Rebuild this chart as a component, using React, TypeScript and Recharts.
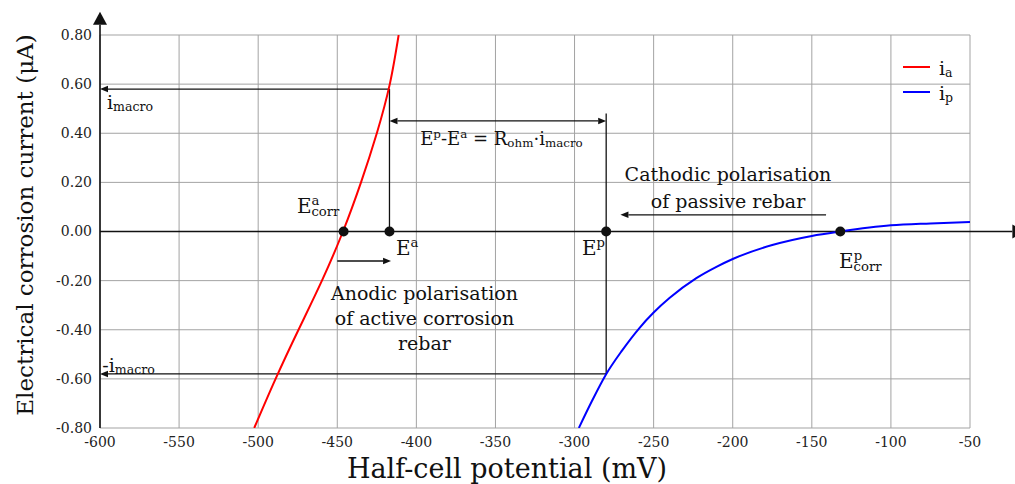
import React from 'react';
import { LineChart, Line, XAxis, YAxis, CartesianGrid, ReferenceLine, ReferenceDot, Legend, Label } from 'recharts';

const FONT = '"DejaVu Serif", serif';
const INK = '#111';
const RED = '#ff0000';
const BLUE = '#0000ff';

const xTicks = [-600, -550, -500, -450, -400, -350, -300, -250, -200, -150, -100, -50];
const yTicks = [-0.8, -0.6, -0.4, -0.2, 0, 0.2, 0.4, 0.6, 0.8];

// anodic curve (active rebar), potential in mV vs current in uA
const anodicE = [-502.5, -489, -474.5, -459.7, -446.4, -435, -425, -416.8, -411.2];
const anodicI = [-0.8, -0.6, -0.4, -0.2, 0, 0.2, 0.4, 0.6, 0.8];

// cathodic curve (passive rebar)
const passiveE = [-297.3, -289, -280.4, -270, -259, -250, -240, -223, -210, -200, -175, -150, -132, -100, -75, -50];
const passiveI = [-0.8, -0.69, -0.585, -0.485, -0.393, -0.33, -0.271, -0.19, -0.143, -0.112, -0.055, -0.018, 0, 0.025, 0.033, 0.039];

// marked potentials and macrocell current
const eaCorr = -446;
const ea = -417;
const ep = -280;
const epCorr = -132;
const iMacro = 0.58;

const anodic = anodicE.map((x, i) => ({ x, y: anodicI[i] }));
const passive = passiveE.map((x, i) => ({ x, y: passiveI[i] }));

type Seg = { t: string; k?: 'sup' | 'sub'; dx?: number };

function Rich({ x, y, size, segs, anchor = 'start' }: { x: number; y: number; size: number; segs: Seg[]; anchor?: string }) {
  let cur = 0;
  return (
    <text x={x} y={y} fontSize={size} fontFamily={FONT} fill={INK} textAnchor={anchor as any} style={{ whiteSpace: 'pre' }}>
      {segs.map((s, i) => {
        const off = s.k === 'sup' ? -0.4 * size : s.k === 'sub' ? 0.13 * size : 0;
        const dy = off - cur;
        cur = off;
        return (
          <tspan key={i} dy={dy} dx={s.dx} fontSize={s.k ? size * 0.66 : size}>
            {s.t}
          </tspan>
        );
      })}
    </text>
  );
}

const textAt = (segs: Seg[], size: number, anchor = 'start') => (p: any) => (
  <Rich x={p.cx} y={p.cy} size={size} segs={segs} anchor={anchor} />
);

// line with arrowheads, drawn from the reference line end points
const arrow = (start: boolean, end: boolean, len = 8, wid = 6.5, sw = 1.3) => (p: any) => {
  const { x1, y1, x2, y2 } = p;
  const L = Math.hypot(x2 - x1, y2 - y1) || 1;
  const ux = (x2 - x1) / L;
  const uy = (y2 - y1) / L;
  const head = (tx: number, ty: number, dx: number, dy: number) => {
    const bx = tx - dx * len;
    const by = ty - dy * len;
    return `${tx},${ty} ${bx - (dy * wid) / 2},${by + (dx * wid) / 2} ${bx + (dy * wid) / 2},${by - (dx * wid) / 2}`;
  };
  const sx = start ? x1 + ux * len : x1;
  const sy = start ? y1 + uy * len : y1;
  const ex = end ? x2 - ux * len : x2;
  const ey = end ? y2 - uy * len : y2;
  return (
    <g>
      <line x1={sx} y1={sy} x2={ex} y2={ey} stroke={INK} strokeWidth={sw} />
      {start && <polygon points={head(x1, y1, -ux, -uy)} fill={INK} />}
      {end && <polygon points={head(x2, y2, ux, uy)} fill={INK} />}
    </g>
  );
};

const plain = (p: any) => <line x1={p.x1} y1={p.y1} x2={p.x2} y2={p.y2} stroke={INK} strokeWidth={1.3} />;

const xTick = (p: any) => (
  <text x={p.x} y={p.y} dy="0.71em" textAnchor="middle" fontSize={14} fontFamily={FONT} fill="#222">
    {p.payload.value}
  </text>
);

const yTick = (p: any) => (
  <text x={p.x} y={p.y} dy="0.355em" textAnchor="end" fontSize={14} fontFamily={FONT} fill="#222">
    {Number(p.payload.value).toFixed(2)}
  </text>
);

const legendContent = () => (
  <svg width={90} height={56}>
    <line x1={8} x2={35} y1={12} y2={12} stroke={RED} strokeWidth={2} />
    <Rich x={44} y={20} size={19} segs={[{ t: 'i' }, { t: 'a', k: 'sub' }]} />
    <line x1={8} x2={35} y1={37} y2={37} stroke={BLUE} strokeWidth={2} />
    <Rich x={44} y={45} size={19} segs={[{ t: 'i' }, { t: 'p', k: 'sub' }]} />
  </svg>
);

const xTitle = () => (
  <text x={507} y={478} fontSize={27} fontFamily={FONT} fill={INK} textAnchor="middle">
    Half-cell potential (mV)
  </text>
);

const yTitle = () => {
  const cx = 33;
  const cy = 225;
  return (
    <text x={cx} y={cy} transform={`rotate(-90, ${cx}, ${cy})`} fontSize={23} fontFamily={FONT} fill={INK} textAnchor="middle">
      Electrical corrosion current (μA)
    </text>
  );
};

export default function App() {
  return (
    <div style={{ position: 'absolute', left: 0, top: 0, width: 1015, height: 484, background: '#fff' }}>
      <LineChart width={1015} height={484} margin={{ top: 35, right: 45, bottom: 16, left: 40 }} style={{ fontFamily: FONT }}>
        <CartesianGrid stroke="#a3a3a3" strokeWidth={1} />
        <XAxis
          dataKey="x"
          type="number"
          domain={[-600, -50]}
          ticks={xTicks}
          allowDataOverflow
          height={40}
          axisLine={false}
          tickLine={false}
          tickSize={0}
          tickMargin={9}
          tick={xTick}
          label={<Label content={xTitle} />}
        />
        <YAxis
          type="number"
          domain={[-0.8, 0.8]}
          ticks={yTicks}
          allowDataOverflow
          width={60}
          axisLine={false}
          tickLine={false}
          tickSize={0}
          tickMargin={8}
          tick={yTick}
          label={<Label content={yTitle} />}
        />
        <Legend layout="horizontal" verticalAlign="middle" align="center" wrapperStyle={{ left: 895, top: 55, width: 90 }} content={legendContent} />

        <ReferenceLine segment={[{ x: -600, y: -0.8 }, { x: -600, y: 0.895 }]} ifOverflow="visible" shape={arrow(false, true, 13, 14, 1.6)} />
        <ReferenceLine segment={[{ x: -600, y: 0 }, { x: -15, y: 0 }]} ifOverflow="visible" shape={arrow(false, true, 13, 14, 1.6)} />

        <ReferenceLine segment={[{ x: ea, y: iMacro }, { x: -600, y: iMacro }]} ifOverflow="visible" shape={arrow(false, true)} />
        <ReferenceLine segment={[{ x: ea, y: iMacro }, { x: ea, y: 0 }]} ifOverflow="visible" shape={plain} />
        <ReferenceLine segment={[{ x: ea, y: 0.45 }, { x: ep, y: 0.45 }]} ifOverflow="visible" shape={arrow(true, true)} />
        <ReferenceLine segment={[{ x: ep, y: 0.48 }, { x: ep, y: -iMacro }]} ifOverflow="visible" shape={plain} />
        <ReferenceLine segment={[{ x: ep, y: -iMacro }, { x: -600, y: -iMacro }]} ifOverflow="visible" shape={arrow(false, true)} />
        <ReferenceLine segment={[{ x: -450, y: -0.12 }, { x: -416, y: -0.12 }]} ifOverflow="visible" shape={arrow(false, true)} />
        <ReferenceLine segment={[{ x: -141, y: 0.068 }, { x: -271, y: 0.068 }]} ifOverflow="visible" shape={arrow(false, true)} />

        <Line data={anodic} dataKey="y" name="ia" type="natural" stroke={RED} strokeWidth={2} dot={false} isAnimationActive={false} />
        <Line data={passive} dataKey="y" name="ip" type="monotone" stroke={BLUE} strokeWidth={2} dot={false} isAnimationActive={false} />

        <ReferenceDot x={eaCorr} y={0} r={5} fill={INK} stroke="none" ifOverflow="visible" />
        <ReferenceDot x={ea} y={0} r={5} fill={INK} stroke="none" ifOverflow="visible" />
        <ReferenceDot x={ep} y={0} r={5} fill={INK} stroke="none" ifOverflow="visible" />
        <ReferenceDot x={epCorr} y={0} r={5} fill={INK} stroke="none" ifOverflow="visible" />

        <ReferenceDot x={-595.6} y={0.5} ifOverflow="visible" shape={textAt([{ t: 'i' }, { t: 'macro', k: 'sub' }], 19)} />
        <ReferenceDot x={-598.5} y={-0.572} ifOverflow="visible" shape={textAt([{ t: '-i' }, { t: 'macro', k: 'sub' }], 19)} />
        <ReferenceDot
          x={-346.2}
          y={0.352}
          ifOverflow="visible"
          shape={textAt(
            [
              { t: 'E' },
              { t: 'p', k: 'sup' },
              { t: '-E' },
              { t: 'a', k: 'sup' },
              { t: ' = R' },
              { t: 'ohm', k: 'sub' },
              { t: '·i' },
              { t: 'macro', k: 'sub' },
            ],
            18,
            'middle'
          )}
        />
        <ReferenceDot x={-203} y={0.206} ifOverflow="visible" shape={textAt([{ t: 'Cathodic polarisation' }], 19, 'middle')} />
        <ReferenceDot x={-203} y={0.096} ifOverflow="visible" shape={textAt([{ t: 'of passive rebar' }], 19, 'middle')} />
        <ReferenceDot x={-394.9} y={-0.279} ifOverflow="visible" shape={textAt([{ t: 'Anodic polarisation' }], 19, 'middle')} />
        <ReferenceDot x={-394.9} y={-0.381} ifOverflow="visible" shape={textAt([{ t: 'of active corrosion' }], 19, 'middle')} />
        <ReferenceDot x={-394.9} y={-0.482} ifOverflow="visible" shape={textAt([{ t: 'rebar' }], 19, 'middle')} />
        <ReferenceDot
          x={-475.5}
          y={0.075}
          ifOverflow="visible"
          shape={textAt([{ t: 'E' }, { t: 'a', k: 'sup' }, { t: 'corr', k: 'sub', dx: -8 }], 20)}
        />
        <ReferenceDot x={-412.9} y={-0.096} ifOverflow="visible" shape={textAt([{ t: 'E' }, { t: 'a', k: 'sup' }], 20)} />
        <ReferenceDot x={-295.3} y={-0.096} ifOverflow="visible" shape={textAt([{ t: 'E' }, { t: 'p', k: 'sup' }], 20)} />
        <ReferenceDot
          x={-132.8}
          y={-0.149}
          ifOverflow="visible"
          shape={textAt([{ t: 'E' }, { t: 'p', k: 'sup' }, { t: 'corr', k: 'sub', dx: -8.5 }], 20)}
        />
      </LineChart>
    </div>
  );
}
